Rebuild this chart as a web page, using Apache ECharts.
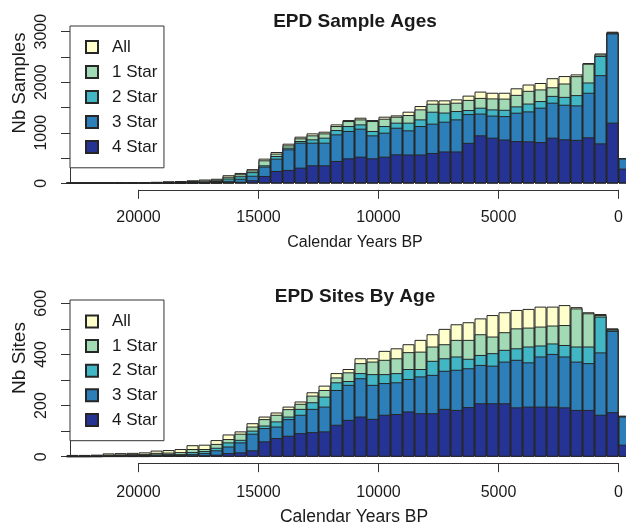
<!DOCTYPE html>
<html><head><meta charset="utf-8">
<script src="https://cdn.jsdelivr.net/npm/echarts@6/dist/echarts.min.js"></script>
<style>html,body{margin:0;padding:0;background:#fff}#c{width:626px;height:526px}</style>
</head><body><div id="c"></div>
<script>
// 500-year bins, centre of each bin (calendar years BP)
const binCenters = [-250,250,750,1250,1750,2250,2750,3250,3750,4250,4750,5250,5750,6250,6750,7250,7750,8250,8750,9250,9750,10250,10750,11250,11750,12250,12750,13250,13750,14250,14750,15250,15750,16250,16750,17250,17750,18250,18750,19250,19750,20250,20750,21250,21750,22250,22750];

// Panel 1: number of samples (cumulative: All >= 1 Star >= 2 Star >= 3 Star >= 4 Star)
const samplesAll = [500,3000,2570,2380,2155,2122,2080,1985,1955,1880,1792,1792,1815,1735,1661,1641,1641,1529,1417,1344,1318,1252,1298,1252,1166,1021,988,923,784,619,488,280,205,160,90,75,60,45,40,30,25,20,15,12,10,8,6];
const samples1 = [500,2990,2550,2366,2120,1975,1900,1858,1830,1750,1676,1680,1690,1650,1595,1575,1575,1463,1351,1318,1278,1232,1265,1232,1133,988,949,890,751,587,455,255,180,130,70,55,45,35,30,20,18,15,10,8,6,5,4];
const samples2 = [495,2980,2520,1995,1745,1710,1730,1628,1578,1522,1455,1462,1496,1450,1430,1400,1417,1265,1200,1200,1133,1035,1166,1133,1054,903,870,837,705,540,356,220,140,95,45,35,30,20,18,12,10,8,6,5,4,3,2];
const samples3 = [490,2966,2140,1792,1542,1555,1595,1496,1423,1397,1330,1340,1380,1370,1265,1219,1180,1133,1048,1100,1002,949,1081,1035,969,804,804,804,672,488,330,150,90,50,30,20,15,10,10,6,5,4,3,2,2,1,1];
const samples4 = [290,1200,790,910,860,870,903,816,830,836,866,903,949,800,630,630,600,570,570,573,527,494,527,494,442,356,356,310,264,244,145,60,30,20,10,8,5,4,3,2,2,1,1,1,0,0,0];

// Panel 2: number of sites
const sitesAll = [160,502,558,565,585,593,587,587,578,574,565,554,541,526,518,500,479,457,440,424,414,385,385,343,327,278,252,216,196,173,157,131,99,87,65,47,45,30,26,24,17,15,14,13,8,7,7];
const sites1 = [160,500,554,561,580,515,513,509,505,502,487,470,479,457,457,440,431,411,409,385,379,372,366,330,310,261,239,207,186,164,147,118,90,69,50,30,30,18,16,15,11,10,9,8,5,5,5];
const sites2 = [158,497,548,431,431,437,443,435,431,424,418,405,398,383,392,385,375,343,343,327,323,323,327,296,291,235,213,187,157,138,122,102,66,56,35,22,18,10,10,9,7,6,6,5,3,3,3];
const sites3 = [157,492,408,366,372,392,402,392,369,379,372,356,359,346,340,336,320,314,304,291,288,281,307,281,261,196,187,164,147,118,112,90,56,40,25,14,10,6,6,5,4,3,3,2,2,1,1];
const sites4 = [47,174,164,183,183,193,196,196,196,193,209,209,209,194,183,187,170,170,177,167,164,148,157,144,125,99,96,92,82,73,60,25,17,14,8,5,4,2,2,2,1,1,1,1,0,0,0];

const seriesNames = ['All','1 Star','2 Star','3 Star','4 Star'];
const seriesColors = ['#FFFFCC','#A1DAB4','#41B6C4','#2C7FB8','#253494'];
const topYLabels = [0,1000,2000,3000];
const bottomYLabels = [0,200,400,600];

const FONT = '"Liberation Sans", Arial, Helvetica, sans-serif';
const INK = '#1a1a1a';
const AXIS = '#333';

function pairs(vals){ return binCenters.map((x,k)=>[x, vals[k]]); }

function panelSeries(idx, arrays){
  return arrays.map((vals,k)=>({
    type:'bar', name:seriesNames[k], xAxisIndex:idx, yAxisIndex:idx,
    data:pairs(vals), barWidth:12, barGap:'-100%', clip:false,
    itemStyle:{color:seriesColors[k], borderColor:'#262626', borderWidth:1},
    emphasis:{disabled:true}, silent:true
  }));
}

function xAxisCfg(g, offset, margin){
  return {type:'value', gridIndex:g, min:0, max:20000, interval:5000, inverse:true, offset:offset,
    axisLine:{show:true, onZero:false, lineStyle:{color:AXIS, width:1}},
    axisTick:{show:true, length:9, lineStyle:{color:AXIS, width:1}},
    axisLabel:{fontFamily:FONT, fontSize:16, color:INK, margin:margin, formatter:(v)=>String(v)},
    splitLine:{show:false}};
}
function yAxisCfg(g, max, interval, labels){
  return {type:'value', gridIndex:g, min:0, max:max, interval:interval, position:'left', offset:68.5,
    axisLine:{show:true, onZero:false, lineStyle:{color:AXIS, width:1}},
    axisTick:{show:true, length:9, lineStyle:{color:AXIS, width:1}},
    axisLabel:{rotate:90, fontFamily:FONT, fontSize:16, color:INK, margin:20,
      formatter:(v)=> labels.includes(v) ? String(v) : ''},
    splitLine:{show:false}};
}
function legendCfg(top, gap, padTop){
  return {data:seriesNames, orient:'vertical', left:70, top:top, itemWidth:12, itemHeight:12, itemGap:gap,
    padding:[padTop,6.6,12.3,15], borderColor:'#333', borderWidth:1, backgroundColor:'#fff',
    icon:'rect', selectedMode:false,
    textStyle:{fontFamily:FONT, fontSize:17, color:INK, lineHeight:12, padding:[0,0,0,9]}};
}
function titleCfg(text, x, y, size, bold){
  return {text:text, left:x, top:y, textAlign:'center', padding:0,
    textStyle:{fontFamily:FONT, fontSize:size, fontWeight:bold?'bold':'normal', color:INK}};
}

const chart = echarts.init(document.getElementById('c'), null, {renderer:'canvas'});
chart.setOption({
  animation:false,
  backgroundColor:'#fff',
  title:[
    titleCfg('EPD Sample Ages', 355, 12, 19, true),
    titleCfg('EPD Sites By Age', 355, 287, 19, true),
    titleCfg('Calendar Years BP', 355, 235, 16, false),
    titleCfg('Calendar Years BP', 354, 508, 17.5, false)
  ],
  legend:[legendCfg(26, 8, 12.5), legendCfg(300, 7.6, 13)],
  grid:[
    {left:138.5, right:7.5, top:31.7, height:151.6, containLabel:false, outerBoundsMode:'none'},
    {left:138.5, right:7.5, top:303.3, height:153.4, containLabel:false, outerBoundsMode:'none'}
  ],
  xAxis:[xAxisCfg(0, 6.5, 20), xAxisCfg(1, 6.5, 21)],
  yAxis:[yAxisCfg(0, 3000, 500, topYLabels), yAxisCfg(1, 600, 100, bottomYLabels)],
  graphic:[
    {type:'text', x:19.5, y:83, rotation:Math.PI/2, silent:true,
      style:{text:'Nb Samples', fontFamily:FONT, fontSize:18.5, fill:INK, align:'center', verticalAlign:'middle'}},
    {type:'text', x:19.5, y:358, rotation:Math.PI/2, silent:true,
      style:{text:'Nb Sites', fontFamily:FONT, fontSize:19, fill:INK, align:'center', verticalAlign:'middle'}}
  ],
  series:[].concat(
    panelSeries(0, [samplesAll, samples1, samples2, samples3, samples4]),
    panelSeries(1, [sitesAll, sites1, sites2, sites3, sites4])
  )
});
</script>
</body></html>
